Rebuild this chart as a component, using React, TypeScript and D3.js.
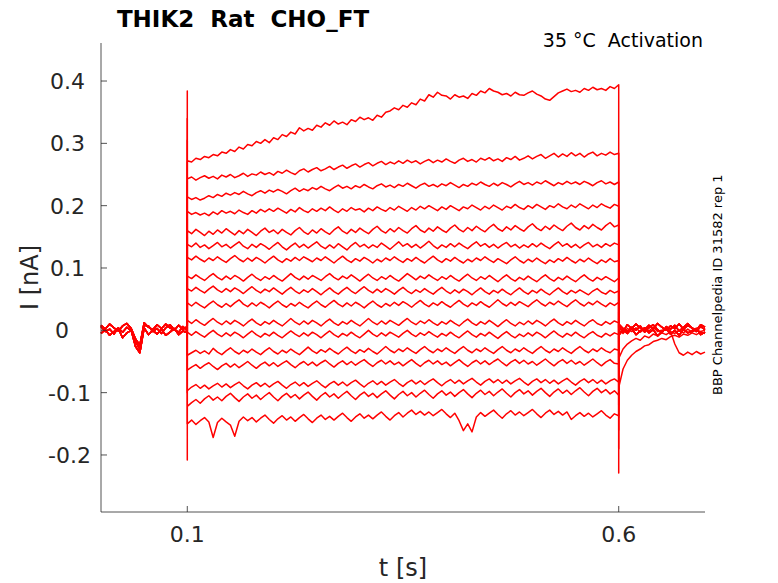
import React from "react";
import * as d3 from "d3";

// Activation protocol recording, currents in pA, sampled every 5 ms

const title = "THIK2  Rat  CHO_FT";
const condition = "35 °C  Activation";
const sourceNote = "BBP Channelpedia ID 31582 rep 1";

const xTicks = [0.1, 0.6];
const yTicks = [-0.2, -0.1, 0, 0.1, 0.2, 0.3, 0.4];

const SAMPLE_DT = 0.005;
const STEP_ON = 0.1;
const STEP_OFF = 0.6;

// holding current before the step (overlapping sweeps)
const preA = [8, 2, 10, 4, -1, 7, 11, 3, -14, -24, 12, 5, 1, 9, 3, 10, 4, 0, 8, 2, 6];
const preB = [-5, 1, -8, -2, 3, -12, -4, 0, -26, -36, 4, -7, 0, -6, 2, -8, -3, 3, -7, -1, -4];
const preC = [6, -2, 2, -6, 4, -3, 5, -1, -18, -30, 8, 7, -2, 3, -5, 4, 9, 1, -3, 6, -1];
const preSweeps = [preA, preB, preC];

// tails after the step
const tailA = [6, -2, 9, 3, 10, 4, 1, 8, 2, 11, 5, 0, 7, 3, 10, 2, 8, 4, 0, 9, 5];
const tailB = [-8, 1, -5, 3, -7, -1, 4, -4, 1, -9, -2, 3, -6, 0, -8, 2, -4, -1, 3, -7, -3];
const tailC = [-92, -62, -48, -40, -34, -30, -25, -23, -18, -16, -13, -15, -10, -8, -11, -6, -8, -4, -7, -3, -5];
const tailD = [-45, -30, -22, -17, -13, -16, -9, -12, -6, -9, -4, -7, -2, -5, 0, -4, 2, -3, 1, -2, 0];
const tailE = [1, -5, 3, -2, 4, -3, 2, -1, 5, -2, 0, 3, -1, -22, -36, -40, -35, -39, -34, -38, -35];
const tailF = [10, 3, -2, 5, 0, 7, -3, 4, 9, 1, -4, 6, 2, 8, -1, 5, 11, 3, -2, 6, 1];
const tailSweeps = [tailA, tailB, tailC, tailD, tailE, tailF];

// capacitive transients at step on / off
const onPeaks = [384, 340, 305, 270, 240, 210, 180, 150, 120, 90, 60, 30, -5, -50, -100, -150, -208];
const offPeaks = [-229, -190, -160, -140, -120, -100, -80, -60, -40, -20, 0, 10, 20, 30, 40, 50, 60];
const preIndex = [0, 1, 2, 0, 1, 2, 0, 1, 2, 0, 1, 2, 0, 1, 2, 0, 1];
const tailIndex = [2, 3, 0, 1, 5, 0, 1, 5, 0, 1, 5, 0, 1, 5, 0, 1, 4];

// step currents 0.100 .. 0.600 s
const s1 = [
  272, 270, 276, 274, 279, 277, 282, 280, 286, 284,
  290, 287, 294, 291, 298, 296, 303, 300, 306, 301,
  309, 306, 314, 311, 318, 315, 325, 320, 324, 321,
  329, 326, 333, 329, 336, 331, 334, 330, 338, 335,
  342, 338, 341, 337, 345, 342, 350, 352, 357, 354,
  361, 358, 365, 362, 371, 368, 378, 374, 382, 377,
  376, 371, 378, 374, 376, 372, 380, 377, 384, 381,
  388, 384, 382, 378, 380, 376, 382, 378, 377, 381,
  384, 379, 376, 371, 369, 375, 381, 384, 387, 383,
  385, 382, 388, 385, 390, 386, 388, 385, 391, 388,
  394,
];
const s2 = [
  243, 246, 241, 245, 248, 244, 247, 243, 249, 246,
  250, 245, 248, 252, 247, 251, 249, 254, 250, 253,
  249, 255, 252, 257, 253, 250, 256, 259, 254, 258,
  261, 256, 259, 263, 258, 262, 265, 260, 264, 267,
  262, 266, 269, 264, 268, 271, 266, 270, 267, 272,
  268, 273, 269, 272, 267, 271, 274, 269, 273, 270,
  275, 271, 268, 273, 276, 271, 274, 270, 276, 273,
  277, 272, 275, 271, 277, 274, 279, 273, 276, 280,
  275, 279, 282, 276, 280, 284, 278, 283, 279, 285,
  280, 284, 278, 283, 286, 280, 284, 281, 286, 282,
  284,
];
const s3 = [
  214, 210, 213, 209, 212, 216, 213, 218, 215, 220,
  217, 221, 218, 223, 219, 216, 221, 224, 220, 225,
  222, 226, 223, 219, 224, 228, 223, 227, 224, 229,
  226, 231, 227, 224, 229, 233, 228, 231, 227, 232,
  229, 234, 230, 227, 232, 235, 230, 233, 229, 234,
  231, 236, 232, 228, 233, 236, 231, 234, 230, 235,
  232, 237, 233, 229, 234, 231, 236, 233, 238, 234,
  231, 236, 232, 237, 234, 230, 235, 239, 234, 237,
  233, 238, 235, 240, 236, 232, 237, 234, 239, 235,
  238, 234, 239, 236, 232, 237, 240, 235, 238, 234,
  238,
];
const s4 = [
  191, 186, 189, 185, 188, 184, 190, 186, 192, 188,
  191, 187, 193, 189, 186, 192, 188, 194, 190, 195,
  191, 196, 192, 188, 194, 190, 197, 192, 189, 195,
  191, 196, 192, 198, 193, 189, 195, 191, 197, 193,
  195, 190, 196, 192, 198, 194, 191, 197, 193, 199,
  195, 191, 197, 193, 199, 195, 200, 196, 192, 198,
  194, 200, 196, 192, 198, 195, 201, 197, 193, 199,
  195, 201, 197, 193, 199, 196, 202, 197, 194, 200,
  196, 202, 198, 194, 200, 197, 203, 198, 195, 201,
  197, 203, 199, 195, 201, 197, 203, 199, 196, 202,
  199,
];
const s5 = [
  160, 155, 162, 157, 152, 159, 154, 161, 156, 163,
  158, 153, 160, 155, 162, 157, 152, 159, 164, 157,
  161, 155, 162, 157, 153, 160, 165, 158, 154, 161,
  156, 163, 158, 154, 161, 166, 159, 155, 162, 157,
  164, 159, 155, 162, 167, 160, 156, 163, 158, 165,
  160, 156, 163, 168, 161, 157, 164, 159, 166, 161,
  157, 164, 169, 162, 158, 165, 160, 167, 162, 158,
  165, 170, 163, 159, 166, 161, 168, 163, 159, 166,
  171, 164, 160, 167, 162, 169, 164, 160, 167, 172,
  165, 161, 168, 163, 170, 165, 161, 168, 173, 166,
  169,
];
const s6 = [
  138, 134, 140, 133, 137, 131, 136, 141, 134, 138,
  132, 137, 142, 135, 131, 138, 133, 139, 135, 130,
  136, 141, 134, 129, 135, 140, 133, 138, 132, 137,
  142, 135, 131, 137, 132, 139, 134, 129, 136, 141,
  134, 138, 132, 137, 133, 140, 135, 130, 136, 142,
  135, 139, 133, 138, 132, 137, 143, 136, 131, 137,
  133, 139, 134, 140, 135, 131, 137, 142, 135, 139,
  133, 138, 132, 137, 141, 134, 138, 132, 137, 133,
  139, 134, 140, 135, 131, 137, 142, 135, 139, 133,
  138, 132, 137, 141, 134, 138, 133, 139, 135, 140,
  137,
];
const s7 = [
  117, 113, 119, 114, 110, 116, 112, 118, 113, 109,
  115, 120, 114, 110, 116, 111, 117, 113, 108, 114,
  119, 113, 109, 115, 111, 117, 112, 118, 114, 110,
  116, 112, 118, 113, 108, 114, 119, 113, 109, 115,
  111, 117, 113, 108, 114, 110, 116, 112, 118, 113,
  109, 115, 111, 117, 112, 108, 114, 119, 113, 109,
  115, 111, 117, 112, 108, 114, 110, 116, 112, 118,
  113, 109, 115, 111, 107, 113, 118, 112, 108, 114,
  110, 116, 111, 107, 113, 109, 115, 111, 117, 112,
  108, 114, 110, 116, 111, 107, 113, 109, 115, 110,
  112,
];
const s8 = [
  87, 83, 89, 84, 80, 86, 91, 85, 81, 87,
  82, 88, 84, 79, 85, 90, 84, 80, 86, 82,
  88, 83, 79, 85, 91, 85, 81, 87, 82, 88,
  84, 80, 86, 91, 85, 81, 87, 83, 89, 84,
  79, 85, 90, 84, 80, 86, 82, 88, 83, 79,
  85, 91, 86, 81, 87, 83, 89, 84, 80, 86,
  82, 88, 83, 79, 85, 90, 84, 80, 86, 82,
  88, 83, 78, 84, 89, 83, 79, 85, 81, 87,
  82, 78, 84, 89, 83, 79, 85, 81, 87, 82,
  78, 84, 89, 83, 79, 85, 81, 86, 82, 78,
  84,
];
const s9 = [
  67, 63, 69, 64, 60, 66, 71, 65, 61, 67,
  62, 68, 64, 59, 65, 70, 64, 60, 66, 62,
  68, 63, 58, 64, 69, 63, 59, 65, 61, 67,
  62, 57, 63, 68, 62, 58, 64, 69, 63, 59,
  65, 70, 64, 60, 66, 61, 67, 63, 58, 64,
  69, 63, 59, 65, 61, 67, 62, 58, 64, 69,
  63, 59, 65, 60, 66, 62, 57, 63, 68, 62,
  58, 64, 60, 66, 61, 57, 63, 68, 62, 58,
  64, 60, 66, 61, 57, 63, 68, 62, 58, 64,
  60, 65, 61, 57, 63, 67, 61, 58, 64, 60,
  63,
];
const s10 = [
  44, 39, 45, 40, 36, 42, 47, 41, 37, 43,
  38, 44, 49, 42, 38, 44, 39, 45, 41, 36,
  42, 47, 41, 37, 43, 39, 45, 40, 36, 42,
  47, 41, 37, 43, 48, 42, 38, 44, 39, 45,
  41, 36, 42, 47, 41, 37, 43, 39, 45, 40,
  46, 42, 37, 43, 48, 42, 38, 44, 40, 46,
  41, 37, 43, 48, 42, 38, 44, 40, 46, 41,
  37, 43, 49, 43, 39, 45, 40, 46, 42, 38,
  44, 49, 43, 39, 45, 41, 47, 42, 38, 44,
  49, 43, 39, 45, 41, 47, 42, 38, 44, 40,
  45,
];
const s11 = [
  16, 11, 17, 12, 8, 14, 19, 13, 9, 15,
  10, 16, 12, 7, 13, 18, 12, 8, 14, 10,
  16, 11, 7, 13, 19, 13, 9, 15, 10, 16,
  12, 7, 13, 18, 12, 8, 14, 10, 16, 11,
  7, 13, 19, 13, 9, 15, 10, 16, 12, 8,
  14, 19, 13, 9, 15, 11, 17, 12, 8, 14,
  10, 16, 11, 7, 13, 18, 12, 8, 14, 10,
  16, 11, 6, 12, 17, 11, 7, 13, 9, 15,
  10, 16, 12, 7, 13, 18, 12, 8, 14, 10,
  16, 11, 7, 13, 17, 11, 8, 14, 10, 15,
  12,
];
const s12 = [
  -3, -8, -2, -7, -11, -5, 0, -6, -10, -4,
  -9, -3, -7, -12, -6, -1, -7, -11, -5, -9,
  -3, -8, -12, -6, -1, -6, -10, -4, -9, -3,
  -7, -12, -6, -1, -7, -11, -5, -9, -3, -8,
  -12, -6, 0, -6, -10, -4, -9, -3, -7, -11,
  -5, 0, -6, -10, -4, -8, -2, -7, -11, -5,
  -9, -3, -8, -12, -6, -1, -7, -11, -5, -9,
  -3, -8, -13, -7, -2, -8, -12, -6, -10, -4,
  -9, -3, -7, -12, -6, -1, -7, -11, -5, -9,
  -3, -8, -12, -6, -2, -8, -11, -5, -9, -4,
  -7,
];
const s13 = [
  -40, -36, -32, -37, -33, -38, -29, -35, -39, -33,
  -28, -34, -38, -32, -36, -30, -35, -39, -33, -28,
  -34, -38, -32, -36, -30, -35, -39, -33, -27, -33,
  -37, -31, -35, -29, -34, -38, -32, -27, -33, -37,
  -31, -35, -29, -34, -38, -32, -26, -32, -36, -30,
  -34, -28, -33, -37, -31, -26, -32, -36, -30, -34,
  -28, -33, -37, -31, -26, -32, -36, -30, -34, -28,
  -33, -37, -31, -26, -32, -36, -30, -34, -28, -33,
  -37, -31, -26, -32, -36, -30, -34, -28, -33, -37,
  -31, -26, -32, -36, -30, -34, -28, -33, -36, -30,
  -32,
];
const s14 = [
  -64, -59, -55, -61, -56, -52, -58, -63, -57, -53,
  -59, -54, -60, -55, -50, -56, -61, -55, -51, -57,
  -52, -58, -53, -49, -55, -60, -54, -50, -56, -51,
  -57, -52, -48, -54, -59, -53, -49, -55, -50, -56,
  -51, -47, -53, -58, -52, -48, -54, -49, -55, -51,
  -57, -52, -47, -53, -58, -52, -48, -54, -49, -55,
  -51, -57, -52, -47, -53, -58, -52, -48, -54, -49,
  -55, -50, -46, -52, -57, -51, -47, -53, -48, -54,
  -50, -56, -51, -46, -52, -57, -51, -47, -53, -48,
  -54, -50, -56, -51, -46, -52, -57, -51, -47, -53,
  -54,
];
const s15 = [
  -97, -91, -87, -93, -88, -94, -89, -85, -91, -86,
  -92, -87, -83, -89, -94, -88, -84, -90, -85, -91,
  -86, -82, -88, -93, -87, -83, -89, -84, -90, -85,
  -81, -87, -92, -86, -82, -88, -83, -89, -84, -80,
  -86, -91, -85, -81, -87, -82, -88, -83, -79, -85,
  -90, -84, -80, -86, -81, -87, -82, -78, -84, -89,
  -83, -79, -85, -80, -86, -81, -77, -83, -88, -82,
  -78, -84, -79, -85, -80, -86, -81, -77, -83, -88,
  -82, -78, -84, -79, -85, -80, -86, -81, -77, -83,
  -88, -82, -78, -84, -79, -85, -80, -86, -81, -78,
  -83,
];
const s16 = [
  -122, -116, -111, -117, -110, -105, -112, -107, -113, -106,
  -101, -108, -114, -107, -102, -109, -104, -111, -105, -100,
  -107, -113, -106, -101, -108, -103, -110, -104, -99, -106,
  -112, -105, -100, -107, -102, -109, -103, -98, -105, -111,
  -104, -99, -106, -101, -108, -102, -97, -104, -110, -103,
  -98, -105, -100, -107, -101, -96, -103, -109, -102, -97,
  -104, -99, -106, -100, -95, -102, -108, -101, -96, -103,
  -98, -105, -99, -94, -101, -107, -100, -95, -102, -97,
  -104, -98, -93, -100, -106, -99, -94, -101, -96, -103,
  -97, -92, -99, -105, -98, -93, -100, -95, -102, -97,
  -104,
];
const s17 = [
  -150, -144, -151, -145, -140, -147, -172, -148, -141, -147,
  -152, -170, -146, -139, -145, -140, -147, -141, -136, -143,
  -149, -142, -137, -144, -139, -146, -140, -135, -142, -148,
  -141, -136, -143, -138, -144, -138, -133, -140, -146, -139,
  -134, -141, -136, -142, -136, -131, -138, -144, -137, -132,
  -139, -133, -128, -135, -130, -136, -131, -137, -132, -127,
  -134, -140, -133, -145, -161, -150, -163, -139, -132, -138,
  -133, -128, -135, -141, -134, -129, -136, -131, -137, -132,
  -127, -134, -140, -133, -128, -135, -130, -136, -131, -143,
  -137, -132, -138, -133, -139, -134, -129, -136, -141, -134,
  -137,
];
const stepSweeps = [s1, s2, s3, s4, s5, s6, s7, s8, s9, s10, s11, s12, s13, s14, s15, s16, s17];

const W = 778;
const H = 583;
const plot = { left: 101, right: 705, top: 43, bottom: 512 };
const font = "'DejaVu Sans', sans-serif";
const axisColor = "#262626";

const App = () => {
  const x = d3.scaleLinear().domain([0, 0.7]).range([plot.left, plot.right]);
  const y = d3.scaleLinear().domain([-0.2915, 0.461]).range([plot.bottom, plot.top]);

  const line = d3
    .line<[number, number]>()
    .x((d) => x(d[0]))
    .y((d) => y(d[1] / 1000));

  const sweeps = stepSweeps.map((step, k) => {
    const pre = preSweeps[preIndex[k]];
    const tail = tailSweeps[tailIndex[k]];
    const pts: [number, number][] = [];
    pre.forEach((v, i) => pts.push([i * SAMPLE_DT, v]));
    pts.push([STEP_ON, onPeaks[k]]);
    step.forEach((v, i) => pts.push([STEP_ON + i * SAMPLE_DT, v]));
    pts.push([STEP_OFF, offPeaks[k]]);
    tail.forEach((v, i) => pts.push([STEP_OFF + i * SAMPLE_DT, v]));
    return pts;
  });

  const fmt = (v: number) => String(+v.toFixed(1));
  // labels sit a bit differently depending on their sign, as in the source
  const yLabelX = (v: number) => (v < 0 ? 91 : v === 0 ? 69 : 85);

  return (
    <svg
      width={W}
      height={H}
      style={{ position: "absolute", left: 0, top: 0, background: "#fff" }}
      fontFamily={font}
    >
      <g>
        {sweeps.map((pts, i) => (
          <path
            key={i}
            d={line(pts) ?? ""}
            fill="none"
            stroke="#ff0000"
            strokeWidth={1.5}
            strokeLinejoin="round"
          />
        ))}
      </g>

      {/* axes */}
      <line x1={plot.left} x2={plot.left} y1={plot.top} y2={plot.bottom} stroke={axisColor} strokeWidth={0.8} />
      <line x1={plot.left} x2={plot.right} y1={plot.bottom} y2={plot.bottom} stroke={axisColor} strokeWidth={0.8} />
      {yTicks.map((t) => (
        <g key={"y" + t}>
          <line x1={plot.left} x2={plot.left + 6} y1={y(t)} y2={y(t)} stroke={axisColor} strokeWidth={0.8} />
          <text x={yLabelX(t)} y={y(t) + 8} fontSize={22} textAnchor="end" fill={axisColor}>
            {fmt(t)}
          </text>
        </g>
      ))}
      {xTicks.map((t) => (
        <g key={"x" + t}>
          <line x1={x(t)} x2={x(t)} y1={plot.bottom} y2={plot.bottom - 6} stroke={axisColor} strokeWidth={0.8} />
          <text x={x(t)} y={542} fontSize={22} textAnchor="middle" fill={axisColor}>
            {fmt(t)}
          </text>
        </g>
      ))}

      <text x={403} y={576} fontSize={24} textAnchor="middle" fill={axisColor}>
        t [s]
      </text>
      <text
        transform="translate(38,277.5) rotate(-90)"
        fontSize={24}
        textAnchor="middle"
        fill={axisColor}
      >
        I [nA]
      </text>

      <text x={243} y={27} fontSize={23} fontWeight="bold" textAnchor="middle" fill="#000" style={{ whiteSpace: "pre" }}>
        {title}
      </text>
      <text x={703} y={47} fontSize={19} textAnchor="end" fill="#000" style={{ whiteSpace: "pre" }}>
        {condition}
      </text>
      <text transform="translate(722,395) rotate(-90)" fontSize={13} textAnchor="start" fill="#000">
        {sourceNote}
      </text>
    </svg>
  );
};

export default App;
